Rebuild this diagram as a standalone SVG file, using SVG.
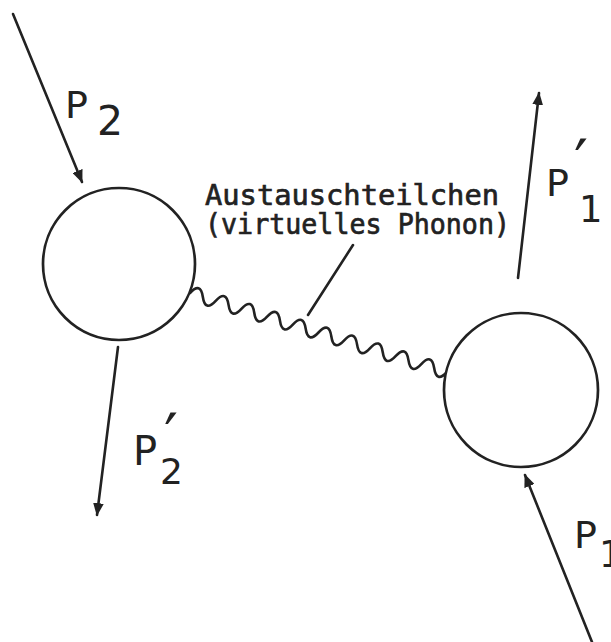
<svg xmlns="http://www.w3.org/2000/svg" width="611" height="642" viewBox="0 0 611 642">
<defs>
<style>
.ln{stroke:#222;stroke-width:2.6;fill:none;stroke-linecap:round}
.ball{stroke:#222;stroke-width:2.7;fill:#fff}
.lbl{font-family:"DejaVu Sans",sans-serif;fill:#222}
.cap{font-family:"DejaVu Sans Mono",monospace;fill:#222;font-size:29px;stroke:#222;stroke-width:0.7}
</style>
<marker id="ah" viewBox="0 0 12 10" refX="11" refY="5" markerWidth="13" markerHeight="11" markerUnits="userSpaceOnUse" orient="auto">
<path d="M0,0 L12,5 L0,10 z" fill="#222"/>
</marker>
</defs>
<rect width="611" height="642" fill="#fff"/>
<g id="connectors">
<path class="ln" d="M13,14 L82,182" marker-end="url(#ah)"/>
<path class="ln" d="M118,347 L97,515" marker-end="url(#ah)"/>
<path class="ln" d="M518,278 L539,93" marker-end="url(#ah)"/>
<path class="ln" d="M592,642 L525,475" marker-end="url(#ah)"/>
<path class="ln" d="M190,293 q10.54,-11.40 12.85,3.95 t12.85,3.95 t12.85,3.95 t12.85,3.95 t12.85,3.95 t12.85,3.95 t12.85,3.95 t12.85,3.95 t12.85,3.95 t12.85,3.95 t12.85,3.95 t12.85,3.95 t12.85,3.95 t12.85,3.95 t12.85,3.95 t12.85,3.95 t12.85,3.95 t12.85,3.95 t12.85,3.95 t12.85,3.95"/>
<path class="ln" d="M353,245 L308,315"/>
</g>
<g id="particle2">
<circle class="ball" cx="119" cy="264" r="76"/>
</g>
<g id="particle1">
<circle class="ball" cx="521" cy="390" r="77"/>
</g>
<g id="label-p2">
<text class="lbl" x="65" y="118" font-size="38">P<tspan x="97" y="135" font-size="41">2</tspan></text>
</g>
<g id="label-p2prime">
<text class="lbl" x="133" y="465" font-size="40">P<tspan x="164" y="458" font-size="62">′</tspan><tspan x="160" y="484" font-size="36">2</tspan></text>
</g>
<g id="label-p1prime">
<text class="lbl" x="546" y="196" font-size="38">P<tspan x="574" y="184" font-size="62">′</tspan><tspan x="579" y="222" font-size="37">1</tspan></text>
</g>
<g id="label-p1">
<text class="lbl" x="574" y="548" font-size="38">P<tspan x="599" y="567" font-size="37">1</tspan></text>
</g>
<g id="label-exchange">
<text class="cap" x="205" y="205" textLength="294" lengthAdjust="spacingAndGlyphs">Austauschteilchen</text>
<text class="cap" x="205" y="234" textLength="305" lengthAdjust="spacingAndGlyphs">(virtuelles Phonon)</text>
</g>
</svg>
